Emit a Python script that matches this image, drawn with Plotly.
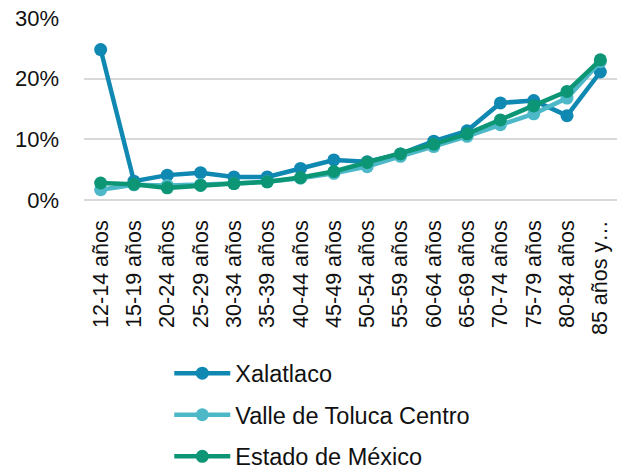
import plotly.graph_objects as go

# Age groups and share of population per group
grupos = ["12-14 años", "15-19 años", "20-24 años", "25-29 años", "30-34 años",
          "35-39 años", "40-44 años", "45-49 años", "50-54 años", "55-59 años",
          "60-64 años", "65-69 años", "70-74 años", "75-79 años", "80-84 años",
          "85 años y…"]

xalatlaco = [0.248, 0.031, 0.041, 0.045, 0.038, 0.038, 0.052, 0.066, 0.063, 0.076,
             0.097, 0.114, 0.160, 0.164, 0.139, 0.211]
valle_toluca = [0.017, 0.025, 0.024, 0.025, 0.027, 0.030, 0.036, 0.044, 0.055, 0.072,
                0.088, 0.105, 0.124, 0.142, 0.168, 0.228]
estado_mexico = [0.028, 0.026, 0.020, 0.024, 0.027, 0.030, 0.037, 0.047, 0.062, 0.076,
                 0.092, 0.109, 0.132, 0.155, 0.179, 0.231]

series = [
    ("Xalatlaco", xalatlaco, "#0F88B2"),
    ("Valle de Toluca Centro", valle_toluca, "#4DB8C8"),
    ("Estado de México", estado_mexico, "#0C9675"),
]

FONT = "Liberation Sans, Arial, sans-serif"

fig = go.Figure()
for i, (nombre, valores, color) in enumerate(series):
    fig.add_trace(go.Scatter(
        x=grupos, y=valores, name=nombre, mode="lines+markers",
        line=dict(color=color, width=4.5),
        marker=dict(color=color, size=13),
        legendgroup=f"g{i}",
    ))

fig.update_layout(
    width=621, height=471,
    margin=dict(l=84, r=4, t=18, b=271, autoexpand=False),
    paper_bgcolor="white", plot_bgcolor="white",
    font=dict(family=FONT, size=22, color="#111111"),
    showlegend=True,
    legend=dict(
        orientation="v", x=0.16, xanchor="left", y=-0.832, yanchor="top",
        font=dict(size=23.5, color="#111111"),
        tracegroupgap=8, itemwidth=56,
        bgcolor="rgba(0,0,0,0)",
    ),
)

fig.update_xaxes(
    type="category", range=[-0.5, 15.5],
    tickangle=-90, showgrid=False, ticks="",
    showline=False, zeroline=False,
    tickfont=dict(size=21.5, color="#111111"),
    ticklabelstandoff=15,
)
fig.update_yaxes(
    range=[0, 0.30], dtick=0.1, tickformat=".0%",
    showgrid=True, gridcolor="#D9D9D9", gridwidth=1.5,
    zeroline=True, zerolinecolor="#D9D9D9", zerolinewidth=1.5,
    showline=False, ticks="",
    tickfont=dict(size=22, color="#111111"),
    ticklabelstandoff=24,
)

fig.write_html("out.html")
